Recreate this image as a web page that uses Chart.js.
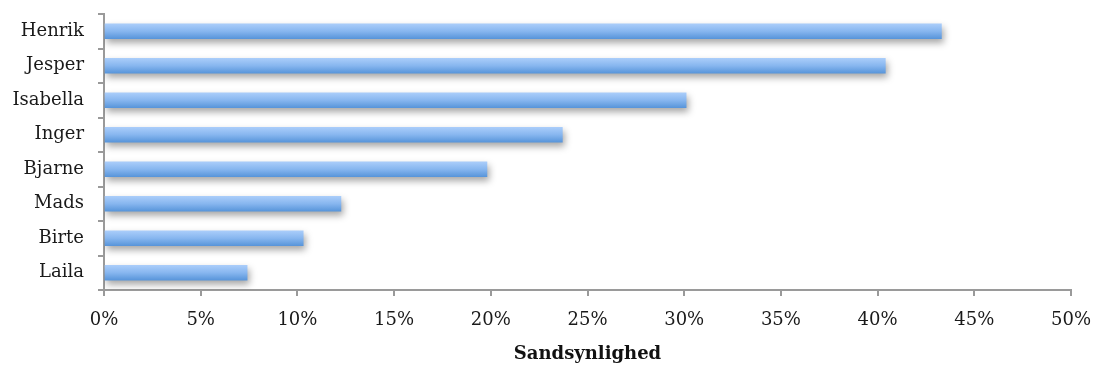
<!DOCTYPE html>
<html>
<head>
<meta charset="utf-8">
<script src="https://cdn.jsdelivr.net/npm/chart.js@4/dist/chart.umd.min.js"></script>
<style>
  html, body { margin: 0; padding: 0; background: #ffffff; }
  #wrap { width: 1093px; height: 365px; }
</style>
</head>
<body>
<div id="wrap"><canvas id="c" width="1093" height="365"></canvas></div>
<script>
// Probability per person (percent)
const names = ['Henrik', 'Jesper', 'Isabella', 'Inger', 'Bjarne', 'Mads', 'Birte', 'Laila'];
const probability = [43.3, 40.4, 30.1, 23.7, 19.8, 12.25, 10.3, 7.4];
const xTicks = [0, 5, 10, 15, 20, 25, 30, 35, 40, 45, 50];
const axisTitle = 'Sandsynlighed';

const BAR = 15;
const serif = '"DejaVu Serif", "Liberation Serif", serif';

// Soft drop shadow under the bars
const barShadow = {
  id: 'barShadow',
  beforeDatasetsDraw(chart) {
    const ctx = chart.ctx;
    ctx.save();
    ctx.shadowColor = 'rgba(0,0,0,0.35)';
    ctx.shadowBlur = 7;
    ctx.shadowOffsetX = 2;
    ctx.shadowOffsetY = 4;
  },
  afterDatasetsDraw(chart) {
    chart.ctx.restore();
  }
};

new Chart(document.getElementById('c'), {
  type: 'bar',
  data: {
    labels: names,
    datasets: [{
      data: probability,
      barThickness: BAR,
      borderWidth: 0,
      backgroundColor(c) {
        const chart = c.chart;
        const y = chart.scales.y;
        if (!y || c.dataIndex == null) return '#7fb0ec';
        const mid = y.getPixelForValue(c.dataIndex);
        if (!isFinite(mid)) return '#7fb0ec';
        const g = chart.ctx.createLinearGradient(0, mid - BAR / 2, 0, mid + BAR / 2);
        g.addColorStop(0, '#aacdfa');
        g.addColorStop(0.5, '#87b6ef');
        g.addColorStop(1, '#5895da');
        return g;
      }
    }]
  },
  options: {
    indexAxis: 'y',
    responsive: false,
    animation: false,
    layout: { padding: { top: 14, right: 22, left: 0, bottom: 0 } },
    plugins: {
      legend: { display: false },
      tooltip: { enabled: false }
    },
    scales: {
      x: {
        type: 'linear',
        min: 0,
        max: 50,
        afterBuildTicks(scale) {
          scale.ticks = xTicks.map(v => ({ value: v }));
        },
        afterFit(scale) {
          scale.height = 75;
          scale.paddingLeft = 0;
          scale.paddingRight = 0;
        },
        grid: {
          drawOnChartArea: false,
          drawTicks: true,
          tickLength: 6,
          color: '#9a9a9a',
          lineWidth: 2
        },
        border: { display: true, color: '#9a9a9a', width: 2 },
        ticks: {
          padding: 14,
          color: '#1a1a1a',
          font: { family: serif, size: 18 },
          maxRotation: 0,
          callback: v => v + '%'
        },
        title: {
          display: true,
          text: axisTitle,
          color: '#111',
          font: { family: serif, size: 18, weight: 'bold' },
          padding: { top: 8, bottom: 0 }
        }
      },
      y: {
        type: 'category',
        offset: true,
        afterFit(scale) {
          scale.width = 104;
          scale.paddingTop = 0;
          scale.paddingBottom = 0;
        },
        grid: {
          offset: true,
          drawOnChartArea: false,
          drawTicks: true,
          tickLength: 6,
          color: '#9a9a9a',
          lineWidth: 2
        },
        border: { display: true, color: '#9a9a9a', width: 2 },
        ticks: {
          padding: 14,
          color: '#1a1a1a',
          font: { family: serif, size: 18 }
        }
      }
    }
  },
  plugins: [barShadow]
});
</script>
</body>
</html>
